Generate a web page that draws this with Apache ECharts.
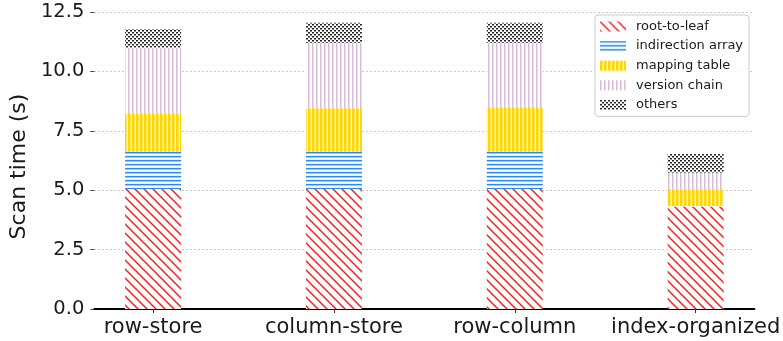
<!DOCTYPE html>
<html>
<head>
<meta charset="utf-8">
<script src="https://cdn.jsdelivr.net/npm/echarts@6/dist/echarts.min.js"></script>
<style>
  html, body { margin: 0; padding: 0; background: #fff; }
  #chart { width: 783px; height: 341px; }
</style>
</head>
<body>
<div id="chart"></div>
<script>
// Layouts compared
const categories = ['row-store', 'column-store', 'row-column', 'index-organized'];

// Scan time breakdown per component (seconds)
const rootToLeaf      = [5.05, 5.05, 5.05, 4.31];
const indirectionArr  = [1.57, 1.57, 1.57, 0.02];
const mappingTable    = [1.62, 1.83, 1.87, 0.71];
const versionChain    = [2.76, 2.76, 2.72, 0.71];
const others          = [0.78, 0.84, 0.84, 0.77];

const seriesNames = ['root-to-leaf', 'indirection array', 'mapping table', 'version chain', 'others'];
const yTicks = [0, 2.5, 5, 7.5, 10, 12.5];

const FONT = 'DejaVu Sans';

// Small tiles used as hatch fills
function tile(w, h, draw) {
  const c = document.createElement('canvas');
  c.width = w; c.height = h;
  const g = c.getContext('2d');
  g.fillStyle = '#ffffff';
  g.fillRect(0, 0, w, h);
  draw(g, w, h);
  return { image: c, repeat: 'repeat' };
}

const hatchDiag = tile(9, 9, (g, w, h) => {
  g.strokeStyle = '#ff1a1a';
  g.lineWidth = 1.5;
  for (let k = -1; k <= 1; k++) {
    g.beginPath();
    g.moveTo(k * w - 1, -1);
    g.lineTo(k * w + w + 1, h + 1);
    g.stroke();
  }
});

const hatchHoriz = tile(4, 4, (g, w) => {
  g.fillStyle = '#2a8cf0';
  g.fillRect(0, 0, w, 1);
  g.fillStyle = '#9ccaf8';
  g.fillRect(0, 1, w, 1);
  g.fillStyle = '#e4f0fd';
  g.fillRect(0, 3, w, 1);
});

const hatchVertGold = tile(4, 4, (g, w, h) => {
  g.fillStyle = '#ffd700';
  g.fillRect(0, 0, 2, h);
  g.fillStyle = '#ffe35a';
  g.fillRect(2, 0, 1, h);
  g.fillStyle = '#fff6c8';
  g.fillRect(3, 0, 1, h);
});

const hatchVertThistle = tile(4, 4, (g, w, h) => {
  g.fillStyle = '#d6bcd8';
  g.fillRect(0, 0, 1, h);
  g.fillStyle = '#eadcec';
  g.fillRect(1, 0, 1, h);
});

const hatchDots = tile(4, 4, (g) => {
  g.fillStyle = '#222222';
  g.fillRect(0, 0, 2, 1);
  g.fillRect(2, 2, 2, 1);
  g.fillStyle = '#8a8a8a';
  g.fillRect(0, 1, 2, 1);
  g.fillRect(2, 3, 2, 1);
});

const fills = [hatchDiag, hatchHoriz, hatchVertGold, hatchVertThistle, hatchDots];
const values = [rootToLeaf, indirectionArr, mappingTable, versionChain, others];

const chart = echarts.init(document.getElementById('chart'), null, { renderer: 'canvas' });

chart.setOption({
  animation: false,
  backgroundColor: '#ffffff',
  grid: { left: 92, right: 26, top: 12, bottom: 32, containLabel: false },
  legend: {
    orient: 'vertical',
    left: 595,
    top: 15,
    padding: [5, 6, 5, 5],
    itemGap: 6.6,
    itemWidth: 26,
    itemHeight: 10,
    icon: 'rect',
    backgroundColor: 'rgba(255,255,255,0.85)',
    borderColor: '#cccccc',
    borderWidth: 1,
    borderRadius: 3,
    textStyle: { fontFamily: FONT, fontSize: 13, color: '#1a1a1a', padding: [0, 0, 0, 5] },
    data: seriesNames
  },
  xAxis: {
    type: 'value',
    min: -0.325,
    max: 3.325,
    splitLine: { show: false },
    axisLine: { show: true, lineStyle: { color: '#000', width: 2 } },
    axisTick: { show: true, customValues: [0, 1, 2, 3], length: 4, lineStyle: { color: '#333', width: 1 } },
    axisLabel: {
      customValues: [0, 1, 2, 3],
      formatter: (v) => categories[Math.round(v)] || '',
      fontFamily: FONT, fontSize: 21, color: '#1a1a1a', margin: 8
    }
  },
  yAxis: {
    type: 'value',
    min: 0,
    max: 12.5,
    interval: 2.5,
    name: 'Scan time (s)',
    nameLocation: 'middle',
    nameGap: 56,
    nameTextStyle: { fontFamily: FONT, fontSize: 22, color: '#1a1a1a', padding: [0, 12, 0, 0] },
    axisLine: { show: false, onZero: false },
    axisTick: { show: true, length: 4, lineStyle: { color: '#444' } },
    axisLabel: {
      fontFamily: FONT, fontSize: 19.5, color: '#1a1a1a', margin: 10,
      formatter: (v) => (yTicks.includes(v) ? v.toFixed(1) : '')
    },
    splitLine: { show: true, lineStyle: { color: '#b8b8b8', width: 1, type: [1.5, 2.5] } }
  },
  series: seriesNames.map((name, k) => ({
    name,
    type: 'bar',
    stack: 'total',
    barWidth: 56,
    itemStyle: { color: fills[k] },
    emphasis: { disabled: true },
    // column 0 = scan time (stacked), column 1 = layout index on the x axis
    encode: { x: 1, y: 0 },
    data: values[k].map((v, i) => [v, i])
  }))
});
</script>
</body>
</html>
